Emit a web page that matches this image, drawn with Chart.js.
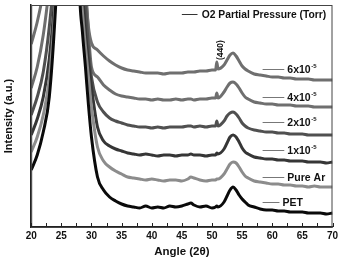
<!DOCTYPE html>
<html>
<head>
<meta charset="utf-8">
<script src="https://cdn.jsdelivr.net/npm/chart.js@4.4.1/dist/chart.umd.min.js"></script>
<style>
  html, body { margin: 0; padding: 0; background: #fff; overflow: hidden; }
  canvas { display: block; }
</style>
</head>
<body>
<canvas id="xrd" width="338" height="258"></canvas>
<script>
// XRD scans, intensity in arbitrary units
const angle = [20,21,22,23,24,24.5,25,26,27,27.5,28,28.5,29,29.5,30,31,32,33,34,35,36,37,38,39,40,41,42,43,44,45,46,46.5,47,48,49,50,50.6,50.8,51,52,52.5,53,53.5,54,54.5,55,55.5,56,57,58,59,60,61,62,63,64,65,66,67,68,69,70];

const pet    = [57,72,95,130,215,280,400,400,400,400,240,195,160,122,90,50,37,30,26,23,21,20,19,21,19,20,19,21,20,21,23,24,22,20,21,19,20,21,20,25,31,37,40,37,32,28,25,22,20,18,17,17,16,16,15,15,15,14,14,14,13,14];
const pureAr = [75,90,112,148,225,290,400,400,400,400,260,215,180,150,120,80,66,60,56,53,50,49,48,47,48,47,46,47,47,46,48,50,49,47,46,47,47,48,48,53,58,63,65,64,60,55,51,49,46,45,44,43,43,42,42,41,41,40,41,40,40,40];
const o2_1   = [92,108,130,168,240,300,400,400,400,400,280,235,195,165,140,100,86,81,78,76,74,73,72,73,72,71,72,72,71,72,72,73,72,72,71,72,72,74,73,78,84,90,92,90,85,79,75,73,70,69,68,68,67,67,66,66,66,65,65,65,64,65];
const o2_2   = [112,130,155,200,270,330,400,400,400,400,330,290,225,180,150,125,115,109,106,104,102,101,100,100,99,100,99,100,100,100,101,101,100,101,100,101,101,106,101,106,111,114,115,113,109,104,101,99,97,96,95,95,94,94,93,93,93,92,92,92,92,92];
const o2_4   = [139,160,192,240,300,360,400,400,400,400,360,300,245,195,160,150,142,137,133,131,130,129,128,128,127,128,127,127,128,127,128,128,127,128,128,129,129,134,129,135,140,144,145,143,139,134,130,128,125,124,123,123,122,122,122,121,121,121,120,120,120,120];
const o2_6   = [183,205,235,280,330,380,400,400,400,400,380,300,235,200,184,177,171,166,162,159,157,156,155,154,154,154,153,154,154,154,155,155,155,156,156,157,157,165,158,162,167,172,174,171,166,161,158,156,153,152,151,150,150,149,149,148,148,148,147,147,147,147];

const seriesData   = [pet, pureAr, o2_1, o2_2, o2_4, o2_6];
const seriesColors = ['#0a0a0a', '#8c8c8c', '#363636', '#505050', '#6f6f6f', '#6f6f6f'];
const labelText    = ['PET', 'Pure Ar', '1x10', '2x10', '4x10', '6x10'];
const labelSup     = ['', '', '-5', '-5', '-5', '-5'];
const labelLevel   = [25, 50, 77, 105, 130, 158];
const legendTitle  = 'O2 Partial Pressure (Torr)';

const datasets = seriesData.map((d, i) => ({
    label: labelText[i] + labelSup[i],
    data: angle.map((a, j) => ({ x: a, y: d[j] })),
    borderColor: seriesColors[i],
    borderWidth: 3,
    pointRadius: 0,
    pointHoverRadius: 0,
    cubicInterpolationMode: 'monotone',
    clip: 0,
}));

const extras = {
    id: 'extras',
    afterDatasetsDraw(chart) {
        const { ctx, chartArea: ca, scales: { x, y } } = chart;
        ctx.save();
        // frame
        ctx.strokeStyle = '#444';
        ctx.lineWidth = 1;
        ctx.strokeRect(ca.left + 0.5, ca.top + 0.5, ca.right - ca.left - 1, ca.bottom - ca.top);
        // inner ticks
        ctx.strokeStyle = '#222';
        x.ticks.forEach(t => {
            const px = Math.round(x.getPixelForValue(t.value)) + 0.5;
            ctx.beginPath();
            ctx.moveTo(px, ca.bottom);
            ctx.lineTo(px, ca.bottom - 4);
            ctx.stroke();
        });
        // series labels
        ctx.fillStyle = '#111';
        ctx.textBaseline = 'middle';
        labelText.forEach((t, i) => {
            const py = Math.round(y.getPixelForValue(labelLevel[i])) + 0.5;
            const x1 = x.getPixelForValue(58.4);
            const x2 = x.getPixelForValue(i === 0 ? 61.2 : 62.0);
            ctx.strokeStyle = '#777';
            ctx.lineWidth = 1;
            ctx.beginPath();
            ctx.moveTo(x1, py);
            ctx.lineTo(x2, py);
            ctx.stroke();
            ctx.font = 'bold 10.5px "Liberation Sans", Arial, sans-serif';
            const tx = x2 + 3;
            ctx.fillText(t, tx, py + 1);
            if (labelSup[i]) {
                const w = ctx.measureText(t).width;
                ctx.font = 'bold 6px "Liberation Sans", Arial, sans-serif';
                ctx.fillText(labelSup[i], tx + w + 0.5, py - 3);
            }
        });
        // (440) peak marker
        ctx.save();
        ctx.translate(x.getPixelForValue(50.9) + 3, y.getPixelForValue(167));
        ctx.rotate(-Math.PI / 2);
        ctx.font = 'bold 8.5px "Liberation Sans", Arial, sans-serif';
        ctx.textAlign = 'left';
        ctx.fillText('(440)', 0, 0);
        ctx.restore();
        // legend
        const ly = ca.top + 9.5;
        ctx.strokeStyle = '#333';
        ctx.beginPath();
        ctx.moveTo(x.getPixelForValue(45.0), ly);
        ctx.lineTo(x.getPixelForValue(47.6), ly);
        ctx.stroke();
        ctx.font = 'bold 10.3px "Liberation Sans", Arial, sans-serif';
        ctx.textAlign = 'left';
        ctx.fillText(legendTitle, x.getPixelForValue(48.3), ly + 0.5);
        ctx.restore();
    }
};

new Chart('xrd', {
    type: 'line',
    data: { datasets: datasets },
    options: {
        responsive: false,
        animation: false,
        layout: { autoPadding: false, padding: { top: 5, right: 0, left: 0, bottom: 0 } },
        plugins: { legend: { display: false }, tooltip: { enabled: false } },
        scales: {
            x: {
                type: 'linear',
                min: 20,
                max: 70,
                afterFit: s => { s.paddingRight = 5.5; },
                grid: { display: false, drawTicks: false },
                border: { display: true, color: '#222', width: 1.5 },
                ticks: {
                    stepSize: 2.5,
                    autoSkip: false,
                    maxRotation: 0,
                    padding: 4.25,
                    color: '#111',
                    font: { family: '"Liberation Sans", Arial, sans-serif', size: 10, weight: 'bold', lineHeight: 1 },
                    callback: v => (v % 5 === 0 ? v : ''),
                },
                title: {
                    display: true,
                    text: 'Angle (2\u03b8)',
                    color: '#111',
                    padding: { top: 1, bottom: 0 },
                    font: { family: '"Liberation Sans", Arial, sans-serif', size: 11.5, weight: 'bold', lineHeight: 1 },
                },
            },
            y: {
                min: 0,
                max: 222,
                grid: { display: false, drawTicks: false },
                border: { display: true, color: '#222', width: 1.5 },
                ticks: { display: false },
                title: {
                    display: true,
                    text: 'Intensity (a.u.)',
                    color: '#111',
                    padding: { top: 2, bottom: 16 },
                    font: { family: '"Liberation Sans", Arial, sans-serif', size: 11, weight: 'bold' },
                },
            },
        },
    },
    plugins: [extras],
});
</script>
</body>
</html>
